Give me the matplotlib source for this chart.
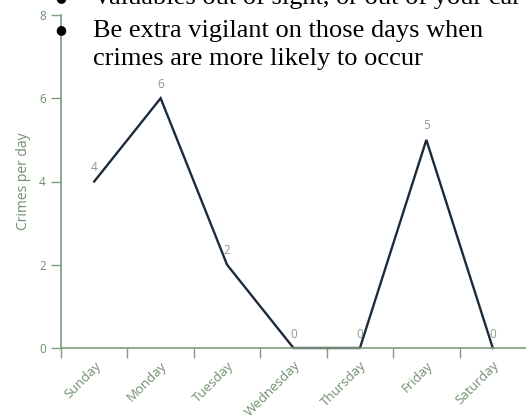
import matplotlib.pyplot as plt
import numpy as np

days = ["Sunday", "Monday", "Tuesday", "Wednesday", "Thursday", "Friday", "Saturday"]
crimes = [4, 6, 2, 0, 0, 5, 0]
notes = ["Valuables out of sight, or out of your car",
         "Be extra vigilant on those days when",
         "crimes are more likely to occur"]

W, H = 526, 417
axis_col = "#7f9c7f"
text_col = "#6f8f6f"
line_col = "#1b2b3c"
sans = "Open Sans"

fig = plt.figure(figsize=(W / 100, H / 100), dpi=100)
# axes box in pixels: left 61, right 526, bottom 348 (from top), top 15
ax = fig.add_axes([61 / W, (H - 348) / H, (526 - 61) / W, (348 - 15) / H])

n = len(days)
x = np.arange(n) + 0.5   # band centres
ax.plot(x, crimes, color=line_col, lw=1.7, solid_joinstyle="miter", clip_on=False)
for xi, yi in zip(x, crimes):
    ax.annotate(str(yi), (xi, yi), xytext=(0, 10), textcoords="offset points",
                ha="center", va="center", fontsize=8.5, color="#8a9a8a",
                family=sans, annotation_clip=False)

ax.set_xlim(0, n)
ax.set_ylim(0, 8)
ax.set_xticks(np.arange(n))
ax.set_xticklabels([])
ax.set_xticks(x, minor=True)
ax.set_xticklabels(days, minor=True, rotation=45, ha="right", va="top",
                   rotation_mode="anchor", fontsize=9.5, color=text_col, family=sans)
ax.tick_params(axis="x", which="minor", length=0, pad=8)
ax.tick_params(axis="x", which="major", length=7, width=1, color=axis_col, direction="out")
ax.set_yticks([0, 2, 4, 6, 8])
ax.tick_params(axis="y", length=7, width=1, color=axis_col, labelcolor=text_col,
               labelsize=8.5, pad=4)
for lab in ax.get_yticklabels():
    lab.set_family(sans)
ax.set_ylabel("Crimes per day", color=text_col, fontsize=10, family=sans, labelpad=6)

for s in ["top", "right"]:
    ax.spines[s].set_visible(False)
for s in ["left", "bottom"]:
    ax.spines[s].set_color(axis_col)
    ax.spines[s].set_linewidth(1.2)

# overlay list text from the page (first item cut by the top edge, as in the page)
def px(xp, yp):
    return xp / W, 1 - yp / H

serif = dict(fontsize=19, family="Liberation Serif", color="black", va="baseline")
fig.text(*px(93, 4), notes[0], **serif)
fig.text(*px(93, 37), notes[1], **serif)
fig.text(*px(93, 65), notes[2], **serif)
for yb in [-2, 30]:
    fig.text(*px(61, yb), "\u25CF", fontsize=9, family="DejaVu Sans",
             ha="center", va="center", color="black")

fig.savefig("out.png", dpi=100)
